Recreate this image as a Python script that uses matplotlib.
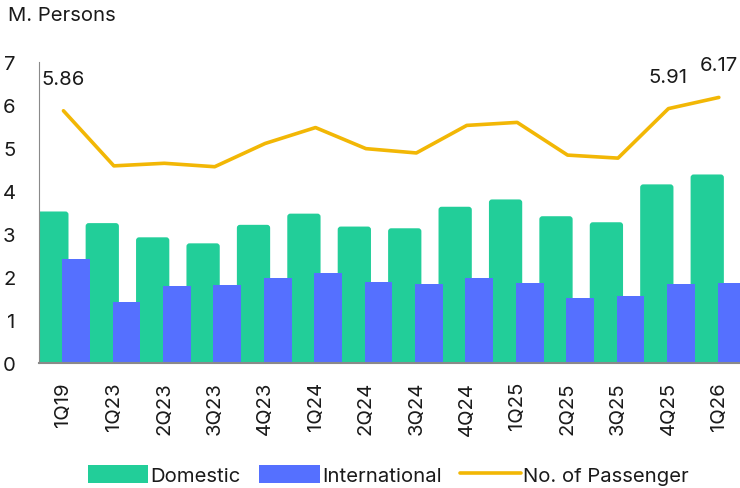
import matplotlib
matplotlib.use("Agg")
import matplotlib.pyplot as plt
from matplotlib.patches import FancyBboxPatch
import numpy as np

plt.rcParams['font.family'] = ['Inter', 'DejaVu Sans']

quarters = ["1Q19", "1Q23", "2Q23", "3Q23", "4Q23", "1Q24", "2Q24", "3Q24",
            "4Q24", "1Q25", "2Q25", "3Q25", "4Q25", "1Q26"]
domestic = [3.52, 3.25, 2.92, 2.78, 3.21, 3.47, 3.17, 3.13, 3.63, 3.80, 3.41, 3.27, 4.15, 4.38]
international = [2.42, 1.42, 1.79, 1.81, 1.97, 2.08, 1.88, 1.84, 1.97, 1.87, 1.50, 1.56, 1.84, 1.87]
passengers = [5.86, 4.58, 4.64, 4.56, 5.10, 5.47, 4.98, 4.88, 5.52, 5.59, 4.83, 4.76, 5.91, 6.17]
labeled = {0: "5.86", 12: "5.91", 13: "6.17"}

GREEN = "#22CE99"
BLUE = "#5570FF"
YELLOW = "#F2B705"
TEXT = "#1a1a1a"
FS = 14.6

fig = plt.figure(figsize=(7.40, 4.89), dpi=100)
ax = fig.add_axes([39/740, 125/489, 1 - 39/740, (426.3 - 125)/489])

x = np.arange(len(quarters))
b1 = ax.bar(x - 0.23, domestic, width=0.66, color=GREEN, label="Domestic", zorder=2)
b2 = ax.bar(x + 0.25, international, width=0.55, color=BLUE, label="International", zorder=3)
ln, = ax.plot(x, passengers, color=YELLOW, lw=2.6, label="No. of Passenger", zorder=4,
              solid_capstyle='round', solid_joinstyle='round')

# give the domestic bars slightly rounded tops
for bar in b1:
    bx, bw, bh = bar.get_x(), bar.get_width(), bar.get_height()
    rp = FancyBboxPatch((bx, -0.15), bw, bh + 0.15,
                        boxstyle="round,pad=0,rounding_size=0.06",
                        mutation_aspect=1.17, facecolor=GREEN, edgecolor='none',
                        zorder=2, clip_on=True)
    ax.add_patch(rp)
    rp.set_clip_path(ax.patch)
    bar.set_visible(False)

for i, t in labeled.items():
    ax.annotate(t, (x[i], passengers[i]), xytext=(0, 23), textcoords='offset points',
                ha='center', va='center', fontsize=FS, color=TEXT)

ax.set_xlim(-0.485, 13.42)
ax.set_ylim(0, 7)
ax.set_yticks(range(0, 8))
ax.set_xticks(x)
ax.set_xticklabels(quarters, rotation=90, fontsize=FS, color=TEXT)
ax.tick_params(axis='y', length=0, pad=17, labelsize=FS, labelcolor=TEXT)
ax.tick_params(axis='x', length=0, pad=13)

for s in ['top', 'right']:
    ax.spines[s].set_visible(False)
ax.spines['left'].set_color('#8a8a8a')
ax.spines['left'].set_linewidth(0.8)
ax.spines['bottom'].set_color('#8a8a8a')
ax.spines['bottom'].set_linewidth(1.5)
ax.spines['bottom'].set_zorder(5)

fig.text(8/740, 1 - 16/489, "M. Persons", fontsize=FS, color=TEXT, va='center', ha='left')

from matplotlib.patches import Patch
h1 = Patch(facecolor=GREEN, edgecolor='none')
fig.legend([h1, b2, ln], ["Domestic", "International", "No. of Passenger"],
           loc='center', bbox_to_anchor=(388/740, 1 - 476/489),
           ncol=3, frameon=False, fontsize=FS, handlelength=3.0, handleheight=1.0,
           handletextpad=0.1, columnspacing=0.9, labelcolor=TEXT)

fig.savefig("out.png", dpi=100)
